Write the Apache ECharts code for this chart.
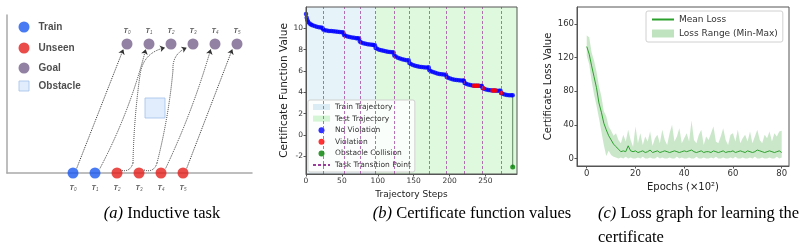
<!DOCTYPE html>
<html>
<head>
<meta charset="utf-8">
<script src="https://cdn.jsdelivr.net/npm/echarts@6/dist/echarts.min.js"></script>
<style>
html,body{margin:0;padding:0;background:#fff;}
#main{width:801px;height:252px;}
</style>
</head>
<body>
<div id="main"></div>
<script>
// (a) inductive task sketch, schematic units (x 0..245, y 0..158)
var taskIds = ['0', '1', '2', '3', '4', '5'];
var startX = [66, 88, 110, 132, 154, 176];
var goalX = [120, 142, 164, 186, 208, 230];
var goalY = 129;
var obstaclePos = [148, 65];
var keyNames = ['Train', 'Unseen', 'Goal', 'Obstacle'];
var keyY = [146, 125, 105, 87];
// dotted trajectories: [x1, y1, x2, y2, curveness]
var arrowTails = [
    [113, 3, 126, 10, -0.5], [126, 10, 133, 98, 0.03],
    [137, 3, 150, 10, -0.5], [150, 10, 166, 103, -0.04]
];
var arrowHeads = [
    [69.7, 4.7, 116.3, 123.7, 0],
    [93, 4.7, 138.7, 123.7, -0.06],
    [133, 98, 158, 125.3, 0.35],
    [166, 103, 179.7, 125.3, 0.35],
    [158.7, 4.7, 203.7, 123.7, -0.04],
    [179.7, 4.7, 225.3, 123.7, 0]
];

// (b) certificate function values
var certSteps = [0, 1, 2, 3, 5, 7, 9, 12, 15, 18, 21, 23,
    24, 26, 29, 32, 35, 38, 41, 44, 47, 50, 52,
    53, 55, 58, 61, 64, 67, 70, 72, 74,
    75, 77, 80, 83, 86, 89, 92, 94, 96,
    97, 99, 102, 105, 108, 111, 114, 117, 120, 122,
    123, 125, 128, 131, 134, 137, 140, 143,
    144, 146, 149, 152, 155, 158, 161, 164, 167, 170, 171,
    172, 174, 177, 180, 183, 186, 189, 192, 195,
    196, 198, 201, 204, 207, 210, 213, 216, 219, 220,
    221, 223, 226, 229, 232, 235, 238, 241, 244, 245,
    246, 248, 251, 254, 257, 260, 263, 266, 269, 271,
    272, 274, 277, 280, 283, 286, 288];
var certValues = [11.35, 11.0, 10.75, 10.6, 10.45, 10.35, 10.28, 10.22, 10.16, 10.11, 10.07, 10.04,
    9.88, 9.82, 9.79, 9.76, 9.74, 9.72, 9.70, 9.68, 9.66, 9.64, 9.62,
    9.38, 9.30, 9.24, 9.19, 9.15, 9.11, 9.08, 9.06, 9.04,
    8.76, 8.68, 8.61, 8.56, 8.52, 8.49, 8.46, 8.44, 8.42,
    8.16, 8.08, 8.00, 7.95, 7.90, 7.85, 7.81, 7.78, 7.75, 7.73,
    7.46, 7.36, 7.25, 7.17, 7.10, 7.05, 7.02, 7.00,
    6.76, 6.66, 6.57, 6.50, 6.45, 6.41, 6.38, 6.36, 6.34, 6.33, 6.32,
    6.08, 5.98, 5.90, 5.83, 5.77, 5.73, 5.70, 5.68, 5.66,
    5.44, 5.36, 5.29, 5.23, 5.19, 5.16, 5.14, 5.12, 5.11, 5.10,
    4.88, 4.80, 4.73, 4.68, 4.65, 4.63, 4.62, 4.61, 4.60, 4.60,
    4.42, 4.34, 4.27, 4.23, 4.20, 4.18, 4.17, 4.16, 4.15, 4.15,
    3.95, 3.87, 3.80, 3.76, 3.74, 3.73, 3.72];
var violSteps = [234, 236, 238, 240, 247, 260, 262, 264, 272];
var violValues = [4.63, 4.63, 4.62, 4.61, 4.38, 4.18, 4.17, 4.17, 3.95];
var collisionStep = [288];
var collisionValue = [-3];
var transitionSteps = [24, 53, 75, 97, 123, 144, 172, 196, 221, 246, 272];
var trainSpan = [0, 97];
var testSpan = [97, 294];

// (c) loss per 100 epochs
var lossMean = [133, 124, 110, 97, 84, 66, 55, 42, 34, 27, 22, 17, 14, 11, 8,
    9, 8, 15, 9, 8, 9, 7, 8, 9, 7,
    8, 10, 7, 8, 9, 7, 8, 9, 8, 7,
    8, 9, 8, 7, 8, 9, 8, 9, 10, 8,
    7, 8, 9, 7, 8, 8, 7, 9, 8, 7,
    8, 9, 7, 8, 8, 9, 7, 8, 9, 8,
    7, 9, 8, 7, 8, 10, 9, 8, 7, 8,
    9, 8, 7, 8, 9, 7];
var lossMax = [146, 144, 126, 116, 103, 86, 74, 56, 50, 38, 33, 27, 30, 22, 18,
    28, 20, 34, 22, 14, 38, 18, 30, 16, 26,
    20, 32, 15, 24, 28, 18, 34, 22, 16, 30,
    40, 20, 26, 36, 18, 24, 30, 20, 45, 22,
    18, 28, 34, 16, 26, 22, 30, 38, 20, 18,
    26, 36, 22, 16, 28, 30, 20, 34, 18, 24,
    28, 20, 32, 18, 26, 34, 22, 18, 28, 24,
    32, 20, 30, 26, 32, 33];
var lossMin = [122, 112, 92, 76, 63, 48, 32, 16, 3, 9, 4, 2, 1, 0, 1,
    0, 2, 0, 1, 0, 0, 1, 0, 2, 0,
    0, 1, 0, 0, 2, 0, 1, 0, 0, 1,
    0, 0, 2, 0, 1, 0, 0, 1, 0, 0,
    2, 0, 0, 1, 0, 0, 1, 0, 2, 0,
    0, 1, 0, 0, 1, 0, 2, 0, 0, 1,
    0, 0, 1, 0, 2, 0, 0, 1, 0, 0,
    1, 0, 0, 2, 0, 1];

var BLUE = '#1a5af0', RED = '#e5211b', GOAL = '#77628b';
var BAND = 'rgba(44,160,44,0.25)';
var tickFont = 'DejaVu Sans';
var capFont = 'Liberation Serif', capSize = 16.5;

function pairs(xs, ys) {
    return xs.map(function (x, i) { return [x, ys[i]]; });
}
function segs(list) {
    return list.map(function (s) {
        return {coords: [[s[0], s[1]], [s[2], s[3]]], lineStyle: {curveness: s[4]}};
    });
}
function tLabel(pos, dist) {
    return {
        show: true, position: pos, distance: dist,
        formatter: function (p) { return '{t|T}{s|' + p.name + '}'; },
        rich: {
            t: {fontSize: 7, fontStyle: 'italic', fontWeight: 'bold', color: '#333', fontFamily: 'Liberation Sans'},
            s: {fontSize: 4.5, fontStyle: 'italic', color: '#333', fontFamily: 'Liberation Sans', padding: [3, 0, 0, 0]}
        }
    };
}
function plotAxis(gi, min, max, ticks, name, gap, nameSize, tickSize) {
    return {
        gridIndex: gi, type: 'value', min: min, max: max, z: 10,
        name: name, nameLocation: 'middle', nameGap: gap,
        nameTextStyle: {fontFamily: tickFont, fontSize: nameSize, color: '#222'},
        axisLine: {show: true, onZero: false, lineStyle: {color: '#555', width: 1}},
        axisTick: {show: true, length: 2.5, customValues: ticks, lineStyle: {color: '#555'}},
        axisLabel: {customValues: ticks, margin: 3, fontFamily: tickFont, fontSize: tickSize, color: '#333'},
        splitLine: {show: false}
    };
}
function caption(x, y, align, text) {
    return {type: 'text', x: x, y: y, style: {text: text, fontFamily: capFont, fontSize: capSize, fill: '#000',
        align: align, verticalAlign: 'middle',
        rich: {i: {fontStyle: 'italic', fontFamily: capFont, fontSize: capSize}}}};
}

var startData = startX.map(function (x, i) { return {name: taskIds[i], value: [x, 0]}; });
var goalData = goalX.map(function (x, i) { return {name: taskIds[i], value: [x, goalY]}; });
var keyColors = [BLUE, RED, GOAL];
var keyData = keyNames.map(function (n, i) {
    if (i === 3) {
        return {name: n, value: [17, keyY[i]], symbol: 'rect', symbolSize: 10,
            itemStyle: {color: '#dae8fc', borderColor: '#a3c0ea', borderWidth: 1}};
    }
    return {name: n, value: [17, keyY[i]], itemStyle: {color: keyColors[i]}};
});

var chart = echarts.init(document.getElementById('main'));
var option = {
    animation: false,
    grid: [
        {left: 7, top: 15, width: 245, height: 158},
        {left: 306, top: 7, width: 211, height: 167, show: true, z: 10, borderColor: '#555', borderWidth: 1},
        {left: 577, top: 7, width: 212, height: 159, show: true, z: 10, borderColor: '#555', borderWidth: 1}
    ],
    xAxis: [
        {gridIndex: 0, type: 'value', min: 0, max: 245,
            axisLine: {show: true, onZero: false, lineStyle: {color: '#a9a9a9', width: 1.5}},
            axisTick: {show: false}, axisLabel: {show: false}, splitLine: {show: false}},
        plotAxis(1, 0, 294, [0, 50, 100, 150, 200, 250], 'Trajectory Steps', 11, 9, 7.5),
        plotAxis(2, -4, 83, [0, 20, 40, 60, 80], 'Epochs (×10²)', 16, 10, 8.5)
    ],
    yAxis: [
        {gridIndex: 0, type: 'value', min: 0, max: 158,
            axisLine: {show: true, onZero: false, lineStyle: {color: '#a9a9a9', width: 1.5}},
            axisTick: {show: false}, axisLabel: {show: false}, splitLine: {show: false}},
        plotAxis(1, -3.65, 12, [-2, 0, 2, 4, 6, 8, 10], 'Certificate Function Value', 15, 10.5, 7.5),
        plotAxis(2, -9, 180, [0, 40, 80, 120, 160], 'Certificate Loss Value', 22, 10, 8.5)
    ],
    legend: [
        {
            orient: 'vertical', left: 308, top: 100, padding: [3, 4, 3, 4],
            itemWidth: 17, itemHeight: 6, itemGap: 3.6,
            backgroundColor: 'rgba(255,255,255,0.85)', borderColor: '#d0d0d0', borderWidth: 1, borderRadius: 2,
            textStyle: {fontFamily: tickFont, fontSize: 7.5, color: '#333'},
            selectedMode: false,
            data: [
                {name: 'Train Trajectory', icon: 'rect'},
                {name: 'Test Trajectory', icon: 'rect'},
                {name: 'No Violation', icon: 'circle', itemStyle: {color: '#0000ff'}},
                {name: 'Violation', icon: 'circle', itemStyle: {color: '#ff0000'}},
                {name: 'Obstacle Collision', icon: 'circle', itemStyle: {color: '#008000'}},
                {name: 'Task Transition Point', itemStyle: {opacity: 0}}
            ]
        },
        {
            orient: 'vertical', left: 646, top: 11, padding: [4, 5, 4, 5],
            itemWidth: 22, itemHeight: 8, itemGap: 5,
            backgroundColor: 'rgba(255,255,255,0.85)', borderColor: '#d0d0d0', borderWidth: 1, borderRadius: 2,
            textStyle: {fontFamily: tickFont, fontSize: 9, color: '#333'},
            selectedMode: false,
            data: [
                {name: 'Mean Loss', itemStyle: {opacity: 0}},
                {name: 'Loss Range (Min-Max)', icon: 'rect', itemStyle: {color: 'rgba(44,160,44,0.3)'}}
            ]
        }
    ],
    graphic: [
        caption(162, 214, 'center', '{i|(a)} Inductive task'),
        caption(472, 214, 'center', '{i|(b)} Certificate function values'),
        caption(598, 214, 'left', '{i|(c)} Loss graph for learning the'),
        caption(598, 238, 'left', 'certificate')
    ],
    series: [
        // ---- (a) ----
        {type: 'lines', coordinateSystem: 'cartesian2d', xAxisIndex: 0, yAxisIndex: 0, z: 1,
            symbol: 'none', lineStyle: {color: '#333', width: 1, type: 'dotted', opacity: 1},
            data: segs(arrowTails)},
        {type: 'lines', coordinateSystem: 'cartesian2d', xAxisIndex: 0, yAxisIndex: 0, z: 1,
            symbol: ['none', 'arrow'], symbolSize: 5, lineStyle: {color: '#333', width: 1, type: 'dotted', opacity: 1},
            data: segs(arrowHeads)},
        {type: 'scatter', xAxisIndex: 0, yAxisIndex: 0, symbol: 'rect', symbolSize: 20,
            itemStyle: {color: '#dae8fc', borderColor: '#a3c0ea', borderWidth: 1},
            data: [obstaclePos]},
        {type: 'scatter', xAxisIndex: 0, yAxisIndex: 0, symbolSize: 11, z: 3,
            itemStyle: {color: BLUE}, label: tLabel('bottom', 6), data: startData.slice(0, 2)},
        {type: 'scatter', xAxisIndex: 0, yAxisIndex: 0, symbolSize: 11, z: 3,
            itemStyle: {color: RED}, label: tLabel('bottom', 6), data: startData.slice(2)},
        {type: 'scatter', xAxisIndex: 0, yAxisIndex: 0, symbolSize: 11, z: 3,
            itemStyle: {color: GOAL}, label: tLabel('top', 3), data: goalData},
        {type: 'scatter', xAxisIndex: 0, yAxisIndex: 0, symbolSize: 11, z: 3,
            label: {show: true, position: 'right', distance: 9, formatter: '{b}', fontFamily: 'Liberation Sans',
                fontWeight: 'bold', fontSize: 10, color: '#222'},
            data: keyData},
        // ---- (b) ----
        {name: 'Train Trajectory', type: 'line', xAxisIndex: 1, yAxisIndex: 1, data: [], z: 1,
            itemStyle: {color: '#dcecf5'},
            markArea: {silent: true, itemStyle: {color: '#e6f3f8'}, data: [[{xAxis: trainSpan[0]}, {xAxis: trainSpan[1]}]]}},
        {name: 'Test Trajectory', type: 'line', xAxisIndex: 1, yAxisIndex: 1, data: [], z: 1,
            itemStyle: {color: '#d4f5d4'},
            markArea: {silent: true, itemStyle: {color: '#def9de'}, data: [[{xAxis: testSpan[0]}, {xAxis: testSpan[1]}]]}},
        {name: 'Task Transition Point', type: 'line', xAxisIndex: 1, yAxisIndex: 1, data: [], z: 2,
            symbol: 'none', itemStyle: {color: '#9b3b9b'}, lineStyle: {color: '#9b3b9b', width: 1, type: [3, 2]},
            markLine: {silent: true, symbol: 'none', label: {show: false},
                lineStyle: {color: '#9b3b9b', width: 0.8, type: [3, 2], opacity: 0.9},
                data: transitionSteps.map(function (s) { return {xAxis: s}; })}},
        {name: 'No Violation', type: 'scatter', xAxisIndex: 1, yAxisIndex: 1, z: 3, symbolSize: 4.5,
            itemStyle: {color: '#0000ff'}, data: pairs(certSteps, certValues)},
        {name: 'Violation', type: 'scatter', xAxisIndex: 1, yAxisIndex: 1, z: 4, symbolSize: 4.5,
            itemStyle: {color: '#ff0000'}, data: pairs(violSteps, violValues)},
        {type: 'line', xAxisIndex: 1, yAxisIndex: 1, z: 3, symbol: 'none',
            lineStyle: {color: '#5f875f', width: 1},
            data: [[certSteps[certSteps.length - 1], certValues[certValues.length - 1]], [collisionStep[0], collisionValue[0]]]},
        {name: 'Obstacle Collision', type: 'scatter', xAxisIndex: 1, yAxisIndex: 1, z: 4, symbolSize: 5,
            itemStyle: {color: '#008000'}, data: pairs(collisionStep, collisionValue)},
        // ---- (c) ----
        {name: 'Loss Range (Min-Max)', type: 'custom', xAxisIndex: 2, yAxisIndex: 2, silent: true, z: 2,
            itemStyle: {color: BAND},
            encode: {x: 0, y: [1, 2]},
            data: lossMax.map(function (v, i) { return [i, v, lossMin[i]]; }),
            renderItem: function (params, api) {
                if (params.dataIndex !== 0) return null;
                var pts = [], i;
                for (i = 0; i < lossMax.length; i++) pts.push(api.coord([i, lossMax[i]]));
                for (i = lossMin.length - 1; i >= 0; i--) pts.push(api.coord([i, lossMin[i]]));
                return {type: 'polygon', shape: {points: pts}, style: {fill: BAND}};
            }},
        {name: 'Mean Loss', type: 'line', xAxisIndex: 2, yAxisIndex: 2, symbol: 'none', z: 3,
            itemStyle: {color: '#2ca02c'}, lineStyle: {color: '#2ca02c', width: 1},
            data: lossMean.map(function (v, i) { return [i, v]; })}
    ]
};
chart.setOption(option);
</script>
</body>
</html>
